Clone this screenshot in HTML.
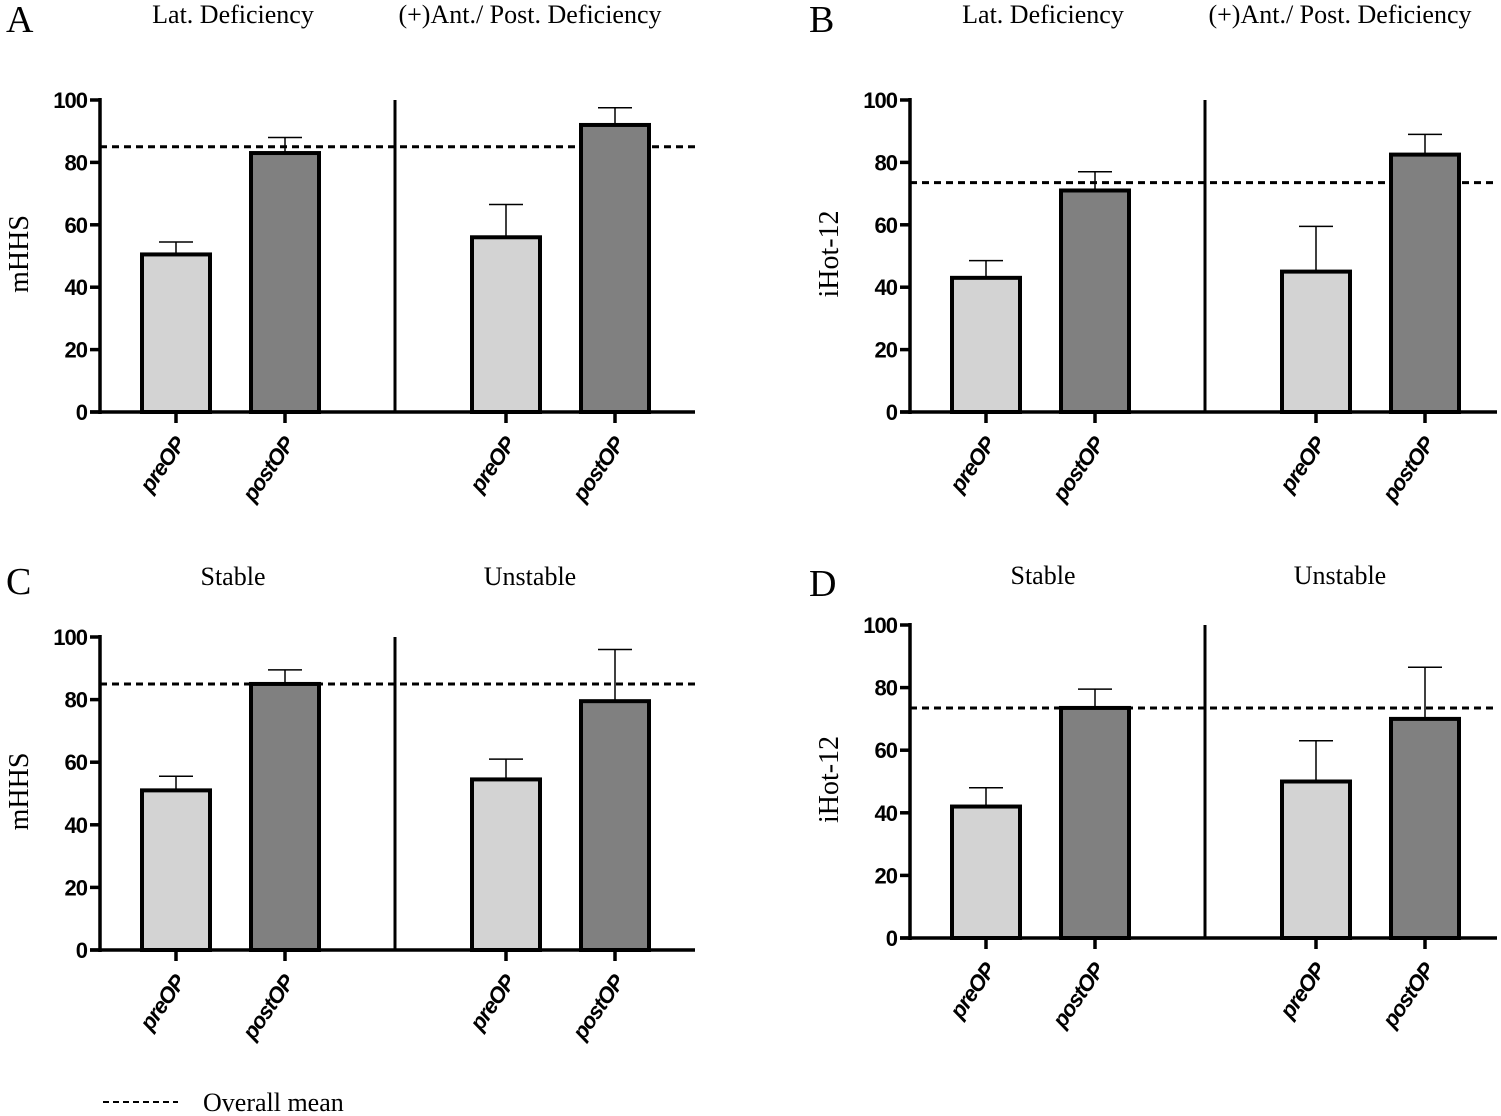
<!DOCTYPE html>
<html><head><meta charset="utf-8"><style>
body{margin:0;background:#fff;}
svg{display:block;}
.t{font-family:"Liberation Sans",sans-serif;font-weight:bold;font-size:22px;letter-spacing:-1px;}
.s{font-family:"Liberation Serif",serif;}
</style></head><body>
<svg id="fig" width="1501" height="1116" viewBox="0 0 1501 1116" xmlns="http://www.w3.org/2000/svg">
<g>
<line x1="103" y1="1102" x2="178" y2="1102" stroke="#000" stroke-width="2" stroke-dasharray="6,4"/>
<text x="203" y="1111" class="s" font-size="26">Overall mean</text>
</g>
</svg>
<script>
const panelLetters=["A","B","C","D"];
const groupTitles=[["Lat. Deficiency","(+)Ant./ Post. Deficiency"],["Lat. Deficiency","(+)Ant./ Post. Deficiency"],["Stable","Unstable"],["Stable","Unstable"]];
const yTitles=["mHHS","iHot-12","mHHS","iHot-12"];
const categories=["preOP","postOP","preOP","postOP"];
const meansA=[50.5,83,56,92];
const errA=[54.5,88,66.5,97.5];
const meansB=[43,71,45,82.5];
const errB=[48.5,77,59.5,89];
const meansC=[51,85,54.5,79.5];
const errC=[55.5,89.5,61,96];
const meansD=[42,73.5,50,70];
const errD=[48,79.5,63,86.5];
const overallMean=[85,73.5,85,73.5];
const yTicks=[0,20,40,60,80,100];

const NS="http://www.w3.org/2000/svg";
const svg=document.getElementById('fig');
const means=[meansA,meansB,meansC,meansD];
const errs=[errA,errB,errC,errD];
const layout=[{x0:100,top:100,bot:412,right:695,lx:20,ly:32,ty:23},{x0:910,top:100,bot:412,right:1497,lx:823,ly:32,ty:23},{x0:100,top:637,bot:950,right:695,lx:20,ly:594,ty:585},{x0:910,top:625,bot:938,right:1497,lx:823,ly:596,ty:584}];
function el(tag,attrs,parent){const e=document.createElementNS(NS,tag);for(const k in attrs)e.setAttribute(k,attrs[k]);(parent||svg).appendChild(e);return e;}
layout.forEach((L,p)=>{
  const g=el('g',{});
  
  
  const y=v=>L.bot-(v/100)*(L.bot-L.top);
  const xc=i=>L.x0+[76,185,406,515][i];
  const divX=L.x0+295;
  const lt=el('text',{x:L.lx-14,y:L.ly,class:'s','font-size':38},g);lt.textContent=panelLetters[p];
  
  
  [L.x0+133,L.x0+430].forEach((cx,j)=>{const t=el('text',{x:cx,y:L.ty,class:'s','font-size':26,'text-anchor':'middle'},g);t.textContent=groupTitles[p][j];
    
    });
  const yt=el('text',{x:0,y:0,class:'s','font-size':28,'text-anchor':'middle',transform:`translate(${L.x0-72},${(L.top+L.bot)/2-2}) rotate(-90)`},g);yt.textContent=yTitles[p];
  
  
  const ml=el('line',{x1:L.x0,x2:L.right,y1:y(overallMean[p]),y2:y(overallMean[p]),stroke:'#000','stroke-width':3,'stroke-dasharray':'7,5'},g);
  
  
  means[p].forEach((v,i)=>{
    const cx=xc(i);
    const el1=el('line',{x1:cx,x2:cx,y1:y(v),y2:y(errs[p][i]),stroke:'#000','stroke-width':1.5},g);
    
    
    const el2=el('line',{x1:cx-17,x2:cx+17,y1:y(errs[p][i]),y2:y(errs[p][i]),stroke:'#000','stroke-width':1.5},g);
    
    
    const r=el('rect',{x:cx-34,y:y(v),width:68,height:L.bot-y(v),fill:i%2?'#808080':'#d3d3d3',stroke:'#000','stroke-width':4},g);
    
    
    const tk=el('line',{x1:cx,x2:cx,y1:L.bot,y2:L.bot+11,stroke:'#000','stroke-width':3.5},g);
    
    
    const lb=el('text',{x:0,y:0,class:'t','font-size':22,'font-style':'italic','letter-spacing':'0','text-anchor':'end',transform:`translate(${cx+10},${L.bot+32}) rotate(-55)`},g);lb.textContent=categories[i];
    
    
  });
  const ya=el('line',{x1:L.x0,x2:L.x0,y1:L.top-2,y2:L.bot+2,stroke:'#000','stroke-width':3.5},g);
  
  
  const xa=el('line',{x1:L.x0-10,x2:L.right,y1:L.bot,y2:L.bot,stroke:'#000','stroke-width':3.5},g);
  
  
  const dv=el('line',{x1:divX,x2:divX,y1:L.top,y2:L.bot,stroke:'#000','stroke-width':3},g);
  
  
  yTicks.forEach(v=>{
    const tl=el('line',{x1:L.x0-10,x2:L.x0,y1:y(v),y2:y(v),stroke:'#000','stroke-width':3.5},g);
    
    
    const tt=el('text',{x:L.x0-13,y:y(v)+8,class:'t','text-anchor':'end'},g);tt.textContent=v;
    
    
  });
});
</script>
</body></html>
